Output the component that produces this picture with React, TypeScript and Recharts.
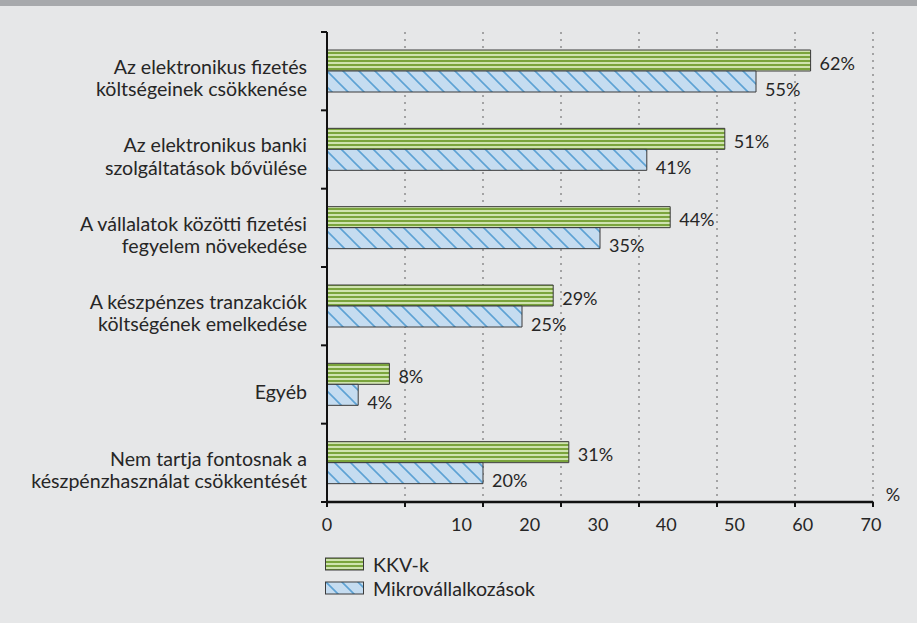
import React from 'react';
import { BarChart, Bar, XAxis, YAxis, CartesianGrid, LabelList } from 'recharts';

const categories = [
  'Az elektronikus fizetés\nköltségeinek csökkenése',
  'Az elektronikus banki\nszolgáltatások bővülése',
  'A vállalatok közötti fizetési\nfegyelem növekedése',
  'A készpénzes tranzakciók\nköltségének emelkedése',
  'Egyéb',
  'Nem tartja fontosnak a\nkészpénzhasználat csökkentését',
];
const kkvValues = [62, 51, 44, 29, 8, 31];
const microValues = [55, 41, 35, 25, 4, 20];
const seriesNames = ['KKV-k', 'Mikrovállalkozások'];
const xTicks = [0, 10, 20, 30, 40, 50, 60, 70];
// the source chart prints its tick labels on a slightly different spacing than the grid
const labelAxisDomain = [-9.7, 70.3];
const labelTicks = [-9.7, 10, 20, 30, 40, 50, 60, 70];
const unitLabel = '%';

const data = categories.map((name, i) => ({ name, kkv: kkvValues[i], micro: microValues[i] }));

const FONT = 'Lato, "Open Sans", sans-serif';
const TEXT = '#262626';
const FS = 19.6;
const NUM_FS = 18;
const TICK_MARGIN = 20;

function CatTick(props: any) {
  const { x, y, payload, index } = props;
  const lines: string[] = String(payload.value).split('\n');
  const off = payload.offset ?? 0;
  const axisX = x + TICK_MARGIN;
  const lh = 22.5;
  const startY = y + 6 - ((lines.length - 1) * lh) / 2;
  return (
    <g>
      <line x1={axisX - 6} x2={axisX} y1={y - off} y2={y - off} stroke="#111" strokeWidth={2} />
      {index === categories.length - 1 && (
        <line x1={axisX - 6} x2={axisX} y1={y + off} y2={y + off} stroke="#111" strokeWidth={2} />
      )}
      <text x={x} y={startY} textAnchor="end" fontFamily={FONT} fontSize={FS} fill={TEXT} dominantBaseline="central">
        {lines.map((l, i) => (
          <tspan key={i} x={x} dy={i === 0 ? 0 : lh}>
            {l}
          </tspan>
        ))}
      </text>
    </g>
  );
}

const makeValueLabel = (dy: number) => (p: any) => {
  const { x, y, width, height, value } = p;
  return (
    <text
      x={x + width + 9}
      y={y + height / 2 + dy}
      fontFamily={FONT}
      fontSize={NUM_FS}
      fill={TEXT}
      dominantBaseline="central"
    >
      {value}%
    </text>
  );
};

export default function App() {
  return (
    <div style={{ position: 'absolute', left: 0, top: 0, width: 917, height: 623, background: '#e6e7e8', overflow: 'hidden' }}>
      <svg width={0} height={0} style={{ position: 'absolute' }}>
        <defs>
          <pattern id="greenStripes" patternUnits="userSpaceOnUse" width={4} height={4}>
            <rect x={0} y={0} width={4} height={4} fill="#cfe3af" />
            <rect x={0} y={0} width={4} height={2} fill="#7aa43c" />
          </pattern>
          <pattern id="blueHatch" patternUnits="userSpaceOnUse" width={16} height={16}>
            <rect x={0} y={0} width={16} height={16} fill="#c5dcf0" />
            <path d="M0,0 L16,16 M-4,12 L4,20 M12,-4 L20,4" stroke="#5da2d4" strokeWidth={1.6} />
          </pattern>
        </defs>
      </svg>
      <div style={{ position: 'absolute', left: 0, top: 0, width: 917, height: 6, background: '#a7a9ac' }} />
      <div style={{ position: 'absolute', left: 0, top: 0 }}>
        <BarChart
          width={917}
          height={623}
          data={data}
          layout="vertical"
          margin={{ top: 32, right: 44, bottom: 86, left: 0 }}
          barSize={21}
          barGap={0}
        >
          <CartesianGrid horizontal={false} vertical stroke="#8d8d8d" strokeWidth={1.5} strokeDasharray="2 5" />
          <XAxis
            type="number"
            domain={[0, 70]}
            ticks={xTicks}
            height={5}
            tickSize={5}
            axisLine={{ stroke: '#111', strokeWidth: 2.5 }}
            tickLine={{ stroke: '#111', strokeWidth: 2 }}
            tickFormatter={() => ''}
            label={{
              content: (p: any) => (
                <text
                  x={p.viewBox.x + p.viewBox.width + 20}
                  y={p.viewBox.y - 8}
                  textAnchor="middle"
                  fontFamily={FONT}
                  fontSize={NUM_FS}
                  fill={TEXT}
                  dominantBaseline="central"
                >
                  {unitLabel}
                </text>
              ),
            }}
          />
          <XAxis
            xAxisId="labels"
            type="number"
            domain={labelAxisDomain}
            allowDataOverflow
            ticks={labelTicks}
            height={30}
            tickSize={0}
            tickMargin={11}
            axisLine={false}
            tickLine={false}
            tick={{ fontFamily: FONT, fontSize: NUM_FS, fill: TEXT }}
            tickFormatter={(v: number) => (v < 0 ? '0' : String(v))}
          />
          <YAxis
            type="category"
            dataKey="name"
            width={327}
            tickSize={0}
            tickMargin={TICK_MARGIN}
            axisLine={{ stroke: '#111', strokeWidth: 2 }}
            tickLine={false}
            tick={<CatTick />}
            interval={0}
          />
          <Bar dataKey="kkv" name={seriesNames[0]} fill="url(#greenStripes)" stroke="#3a3a3a" strokeWidth={1} isAnimationActive={false}>
            <LabelList dataKey="kkv" content={makeValueLabel(2)} />
          </Bar>
          <Bar dataKey="micro" name={seriesNames[1]} fill="url(#blueHatch)" stroke="#3a3a3a" strokeWidth={1} isAnimationActive={false}>
            <LabelList dataKey="micro" content={makeValueLabel(7)} />
          </Bar>
        </BarChart>
      </div>
      <div style={{ position: 'absolute', left: 325, top: 552, fontFamily: FONT, fontSize: FS, color: TEXT }}>
        {seriesNames.map((n, i) => (
          <div key={n} style={{ display: 'flex', alignItems: 'center', height: 24 }}>
            <svg width={40} height={14} style={{ marginRight: 8 }}>
              <rect x={0.5} y={1} width={38} height={12} fill={i === 0 ? 'url(#greenStripes)' : 'url(#blueHatch)'} stroke="#3a3a3a" strokeWidth={1} />
            </svg>
            <span>{n}</span>
          </div>
        ))}
      </div>
    </div>
  );
}
